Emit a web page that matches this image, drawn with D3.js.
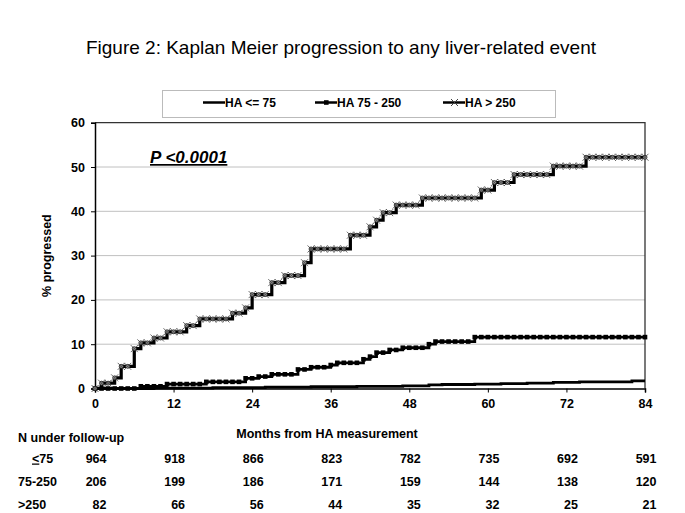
<!DOCTYPE html>
<html><head><meta charset="utf-8">
<script src="https://cdn.jsdelivr.net/npm/d3@7"></script>
<style>
body{margin:0;background:#fff;}
svg{display:block;font-family:"Liberation Sans",Arial,sans-serif;}
</style></head>
<body><svg id="c" width="685" height="513"></svg>
<script>
// ---------------- data ----------------
const months = d3.range(0, 85); // 0..84
const haLow = [ // HA <= 75
 0,0,0,0,0,0,0,0,0,
 0.1,0.1,0.1,0.1,0.1,0.1,0.1,0.1,0.1,
 0.2,0.2,0.2,0.2,0.2,0.2,0.2,0.2,
 0.3,0.3,0.3,0.3,0.3,0.3,0.3,
 0.4,0.4,0.4,0.4,0.4,0.4,0.4,
 0.5,0.5,0.5,0.5,0.5,0.5,0.5,
 0.6,0.6,0.6,0.6,
 0.8,0.8,
 0.9,0.9,0.9,0.9,0.9,
 1.0,1.0,1.0,1.0,
 1.1,1.1,1.1,1.1,
 1.2,1.2,1.2,1.2,
 1.4,1.4,1.4,1.4,
 1.5,1.5,1.5,1.5,1.5,1.5,1.5,1.5,
 1.7,1.7,1.7];
const haMid = [ // HA 75 - 250
 0,0,0,0,0,0,0,
 0.5,0.5,0.5,0.5,
 1.0,1.0,1.0,1.0,1.0,1.0,
 1.5,1.5,1.5,1.5,1.5,1.5,
 2.3,2.3,
 2.7,2.7,
 3.2,3.2,3.2,3.2,
 4.3,4.3,
 4.8,4.8,4.8,
 5.3,
 5.8,5.8,5.8,5.8,
 6.6,
 7.2,
 8.1,8.1,
 8.7,8.7,
 9.2,9.2,9.2,9.2,
 10.0,
 10.6,10.6,10.6,10.6,10.6,10.6,
 11.6,11.6,11.6,11.6,11.6,11.6,11.6,11.6,11.6,11.6,11.6,11.6,11.6,11.6,
 11.6,11.6,11.6,11.6,11.6,11.6,11.6,11.6,11.6,11.6,11.6,11.6,11.6];
const haHigh = [ // HA > 250
 0,
 1.2,1.2,
 2.4,
 5.0,5.0,
 9.0,
 10.3,10.3,
 11.4,11.4,
 12.8,12.8,12.8,
 14.2,14.2,
 15.7,15.7,15.7,15.7,15.7,
 17.0,17.0,
 18.2,
 21.2,21.2,21.2,
 23.9,23.9,
 25.5,25.5,25.5,
 28.4,
 31.5,31.5,31.5,31.5,31.5,31.5,
 34.6,34.6,34.6,
 36.5,
 38.0,
 39.7,39.7,
 41.4,41.4,41.4,41.4,
 43.0,43.0,43.0,43.0,43.0,43.0,43.0,43.0,43.0,
 44.8,44.8,
 46.5,46.5,46.5,
 48.3,48.3,48.3,48.3,48.3,48.3,
 50.2,50.2,50.2,50.2,50.2,
 52.2,52.2,52.2,52.2,52.2,52.2,52.2,52.2,52.2,52.2];
const seriesNames = ["HA <= 75", "HA 75 - 250", "HA > 250"];
const xTicks = [0, 12, 24, 36, 48, 60, 72, 84];
const yTicks = [0, 10, 20, 30, 40, 50, 60];
const riskLabels = ["<75", "75-250", ">250"];
const riskLow = [964, 918, 866, 823, 782, 735, 692, 591];
const riskMid = [206, 199, 186, 171, 159, 144, 138, 120];
const riskHigh = [82, 66, 56, 44, 35, 32, 25, 21];
const pText = "P <0.0001";
const titleText = "Figure 2: Kaplan Meier progression to any liver-related event";

// ---------------- drawing ----------------
const svg = d3.select("#c");
const x = d3.scaleLinear().domain([0, 84]).range([95, 645]);
const y = d3.scaleLinear().domain([0, 60]).range([388.5, 122.7]);

svg.append("text").attr("x", 341).attr("y", 54).attr("text-anchor", "middle")
  .attr("font-size", 19).attr("fill", "#000").text(titleText);

// gridlines
svg.append("g").selectAll("line").data(yTicks.filter(d => d > 0 && d < 60)).join("line")
  .attr("x1", x(0)).attr("x2", x(84)).attr("y1", d => y(d)).attr("y2", d => y(d))
  .attr("stroke", "#c0c0c0").attr("stroke-width", 1);

// frame top/right
svg.append("path").attr("d", `M${x(0)},${y(60)}H${x(84)}V${y(0)}`)
  .attr("fill", "none").attr("stroke", "#333").attr("stroke-width", 1.3);

// axes
const yAxis = svg.append("g").attr("transform", `translate(${x(0)},0)`)
  .call(d3.axisLeft(y).tickValues(yTicks).tickSize(4).tickPadding(6));
const xAxis = svg.append("g").attr("transform", `translate(0,${y(0)})`)
  .call(d3.axisBottom(x).tickValues(xTicks).tickSize(4).tickPadding(7));
[yAxis, xAxis].forEach(g => {
  g.select(".domain").attr("stroke", "#000").attr("stroke-width", 1.5);
  g.selectAll(".tick line").attr("stroke", "#000").attr("stroke-width", 1);
  g.selectAll("text").attr("font-size", 12.5).attr("font-weight", "bold")
    .attr("font-family", "'Liberation Sans',Arial,sans-serif").attr("fill", "#000");
});

// lines
const line = d3.line().x((d, i) => x(months[i])).y(d => y(d)).curve(d3.curveStepAfter);
svg.append("path").datum(haLow).attr("d", line).attr("fill", "none")
  .attr("stroke", "#000").attr("stroke-width", 2.8);
svg.append("path").datum(haMid).attr("d", line).attr("fill", "none")
  .attr("stroke", "#000").attr("stroke-width", 2.8);
svg.append("g").selectAll("rect").data(haMid).join("rect")
  .attr("x", (d, i) => x(months[i]) - 2.3).attr("y", d => y(d) - 2.3)
  .attr("width", 4.6).attr("height", 4.6).attr("fill", "#000");
svg.append("path").datum(haHigh).attr("d", line).attr("fill", "none")
  .attr("stroke", "#000").attr("stroke-width", 3.2);
const mk = svg.append("g");
mk.selectAll("circle").data(haHigh).join("circle")
  .attr("cx", (d, i) => x(months[i])).attr("cy", d => y(d)).attr("r", 2)
  .attr("fill", "#999").attr("stroke", "#222").attr("stroke-width", 0.8);
mk.selectAll("path").data(haHigh).join("path")
  .attr("d", (d, i) => { const cx = x(months[i]), cy = y(d), s = 3.5;
    return `M${cx-s},${cy-s}L${cx+s},${cy+s}M${cx-s},${cy+s}L${cx+s},${cy-s}`; })
  .attr("stroke", "#444").attr("stroke-width", 0.8);

// legend
svg.append("rect").attr("x", 162.5).attr("y", 90.5).attr("width", 393).attr("height", 27)
  .attr("fill", "#fff").attr("stroke", "#bbb").attr("stroke-width", 1);
const legX = [203, 315, 443];
const lg = svg.append("g");
seriesNames.forEach((n, i) => {
  const lx = legX[i], ly = 102.5;
  lg.append("line").attr("x1", lx).attr("x2", lx + 22).attr("y1", ly).attr("y2", ly)
    .attr("stroke", "#000").attr("stroke-width", 2.5);
  if (i === 1) lg.append("rect").attr("x", lx + 9).attr("y", ly - 2.3).attr("width", 4.6).attr("height", 4.6).attr("fill", "#000");
  if (i === 2) lg.append("path").attr("d", `M${lx+8},${ly-3.5}L${lx+15},${ly+3.5}M${lx+8},${ly+3.5}L${lx+15},${ly-3.5}`)
    .attr("stroke", "#444").attr("stroke-width", 1);
  lg.append("text").attr("x", lx + 22).attr("y", ly + 4.3).attr("font-size", 12)
    .attr("font-weight", "bold").text(n);
});

// p value
svg.append("text").attr("x", 150).attr("y", 163).attr("font-size", 17)
  .attr("font-weight", "bold").attr("font-style", "italic")
  .attr("text-decoration", "underline").text(pText);

// axis titles
svg.append("text").attr("transform", `translate(51,${(y(0)+y(60))/2}) rotate(-90)`)
  .attr("text-anchor", "middle").attr("font-size", 12.5).attr("font-weight", "bold").text("% progressed");
svg.append("text").attr("x", 327).attr("y", 438).attr("text-anchor", "middle")
  .attr("font-size", 12.5).attr("font-weight", "bold").text("Months from HA measurement");
svg.append("text").attr("x", 18).attr("y", 442)
  .attr("font-size", 12.5).attr("font-weight", "bold").text("N under follow-up");

// risk table
const rows = [riskLow, riskMid, riskHigh];
const rowY = [462.5, 485.5, 508.5];
const labX = [32, 18, 18];
rows.forEach((r, ri) => {
  const t = svg.append("text").attr("x", labX[ri]).attr("y", rowY[ri])
    .attr("font-size", 12.5).attr("font-weight", "bold");
  if (ri === 0) {
    t.append("tspan").attr("text-decoration", "underline").text(riskLabels[0].slice(0, 1));
    t.append("tspan").text(riskLabels[0].slice(1));
  } else t.text(riskLabels[ri]);
  svg.append("g").selectAll("text").data(r).join("text")
    .attr("x", (d, i) => x(xTicks[i]) + 11.5).attr("y", rowY[ri]).attr("text-anchor", "end")
    .attr("font-size", 12.5).attr("font-weight", "bold").text(d => d);
});
</script></body></html>
